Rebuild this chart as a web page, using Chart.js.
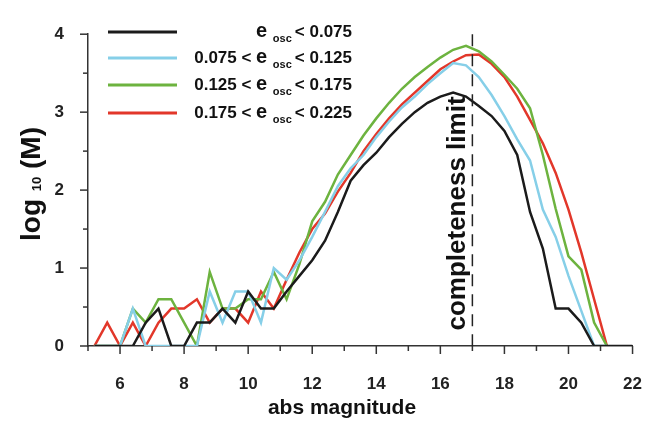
<!DOCTYPE html>
<html>
<head>
<meta charset="utf-8">
<script src="https://cdn.jsdelivr.net/npm/chart.js@4.4.0/dist/chart.umd.min.js"></script>
<style>
  html, body { margin: 0; padding: 0; background: #fff; }
  #wrap { width: 670px; height: 423px; }
</style>
</head>
<body>
<div id="wrap"><canvas id="chart"></canvas></div>
<script>
// abs magnitude bins
const magnitudes = [5.2, 5.6, 6.0, 6.4, 6.8, 7.2, 7.6, 8.0, 8.4, 8.8, 9.2, 9.6, 10.0, 10.4, 10.8,
  11.2, 11.6, 12.0, 12.4, 12.8, 13.2, 13.6, 14.0, 14.4, 14.8, 15.2, 15.6, 16.0, 16.4, 16.8,
  17.2, 17.6, 18.0, 18.4, 18.8, 19.2, 19.6, 20.0, 20.4, 20.8, 21.2, 21.6, 22.0];

// log10(M) per eccentricity range
const eLow = [0, 0, 0, 0, 0.3, 0.48, 0, 0, 0.3, 0.3, 0.48, 0.3, 0.7, 0.48, 0.48,
  0.7, 0.9, 1.1, 1.35, 1.72, 2.12, 2.32, 2.48, 2.68, 2.85, 3.0, 3.12, 3.2, 3.25, 3.2,
  3.08, 2.95, 2.76, 2.45, 1.72, 1.25, 0.48, 0.48, 0.3, 0, 0, 0, 0];
const eMid1 = [0, 0, 0, 0.48, 0, 0, 0, 0, 0, 0.7, 0.3, 0.7, 0.7, 0.3, 1.0,
  0.85, 1.1, 1.4, 1.72, 2.05, 2.28, 2.45, 2.68, 2.88, 3.06, 3.2, 3.36, 3.5, 3.63, 3.6,
  3.45, 3.22, 2.95, 2.65, 2.38, 1.75, 1.4, 0.9, 0.45, 0, 0, null, null];
const eMid2 = [0, 0, 0, 0.48, 0.3, 0.6, 0.6, 0.3, 0, 0.95, 0.48, 0.48, 0.6, 0.6, 0.95,
  0.6, 1.05, 1.6, 1.85, 2.2, 2.45, 2.7, 2.92, 3.12, 3.3, 3.45, 3.58, 3.7, 3.8, 3.85,
  3.78, 3.65, 3.48, 3.3, 3.05, 2.45, 1.76, 1.15, 0.98, 0.3, 0, null, null];
const eHigh = [0, 0.3, 0, 0.3, 0, 0.3, 0.48, 0.48, 0.6, 0.3, 0.48, 0.48, 0.3, 0.7, 0.48,
  0.85, 1.2, 1.5, 1.7, 1.98, 2.22, 2.5, 2.72, 2.92, 3.1, 3.25, 3.4, 3.55, 3.65, 3.73,
  3.74, 3.62, 3.45, 3.2, 2.9, 2.6, 2.22, 1.75, 1.2, 0.6, 0, null, null];

const rangeLow = ['', '0.075', '0.125', '0.175'];
const rangeHigh = ['0.075', '0.125', '0.175', '0.225'];
const xTickLabels = [6, 8, 10, 12, 14, 16, 18, 20, 22];
const yTickLabels = [0, 1, 2, 3, 4];
const completenessLimit = 17;

const colors = ['#1b1b1b', '#86cfe8', '#6db33f', '#e2372a'];
const FONT = '"Liberation Sans", Arial, sans-serif';

function series(vals) {
  return magnitudes.map((m, i) => ({ x: m, y: vals[i] }));
}

const decorations = {
  id: 'decorations',
  afterDraw(chart) {
    const ctx = chart.ctx;
    const xs = chart.scales.x, ys = chart.scales.y;
    const area = chart.chartArea;
    ctx.save();
    ctx.strokeStyle = '#333';
    ctx.lineWidth = 1.5;

    // tick marks
    xs.ticks.forEach(t => {
      const px = xs.getPixelForValue(t.value);
      const len = xTickLabels.includes(t.value) ? 8 : 5;
      ctx.beginPath();
      ctx.moveTo(px, area.bottom);
      ctx.lineTo(px, area.bottom + len);
      ctx.stroke();
    });
    for (let v = ys.min; v <= ys.max; v += 0.5) {
      const py = ys.getPixelForValue(v);
      const len = yTickLabels.includes(v) ? 8 : 5;
      ctx.beginPath();
      ctx.moveTo(area.left, py);
      ctx.lineTo(area.left - len, py);
      ctx.stroke();
    }

    // completeness limit
    const lx = xs.getPixelForValue(completenessLimit);
    ctx.strokeStyle = '#222';
    ctx.setLineDash([12, 8]);
    ctx.beginPath();
    ctx.moveTo(lx, ys.getPixelForValue(4));
    ctx.lineTo(lx, area.bottom + 8);
    ctx.stroke();
    ctx.setLineDash([]);

    ctx.fillStyle = '#111';
    ctx.save();
    ctx.translate(lx - 15, ys.getPixelForValue(1.7));
    ctx.rotate(-Math.PI / 2);
    ctx.font = 'bold 26px ' + FONT;
    ctx.textAlign = 'center';
    ctx.textBaseline = 'middle';
    ctx.fillText('completeness limit', 0, 0);
    ctx.restore();

    // axis titles
    ctx.font = 'bold 21px ' + FONT;
    ctx.textAlign = 'center';
    ctx.textBaseline = 'middle';
    ctx.fillText('abs magnitude', 342, 408);

    ctx.save();
    ctx.translate(32, 184);
    ctx.rotate(-Math.PI / 2);
    const parts = [['log ', 28, 0], ['10', 13, 5], [' (M)', 28, 0]];
    let total = 0;
    parts.forEach(p => { ctx.font = 'bold ' + p[1] + 'px ' + FONT; total += ctx.measureText(p[0]).width; });
    let cx = -total / 2;
    ctx.textAlign = 'left';
    parts.forEach(p => {
      ctx.font = 'bold ' + p[1] + 'px ' + FONT;
      ctx.fillText(p[0], cx, p[2]);
      cx += ctx.measureText(p[0]).width;
    });
    ctx.restore();

    // legend
    const rowsY = [32, 58, 85, 113];
    const textRight = 352;
    chart.data.datasets.forEach((ds, i) => {
      const y = rowsY[i];
      ctx.strokeStyle = ds.borderColor;
      ctx.lineWidth = 3;
      ctx.beginPath();
      ctx.moveTo(108, y);
      ctx.lineTo(177, y);
      ctx.stroke();

      const segs = [];
      if (rangeLow[i]) segs.push([rangeLow[i] + ' < ', 17, 0]);
      segs.push(['e ', 20, -1]);
      segs.push(['osc ', 11, 7]);
      segs.push(['< ' + rangeHigh[i], 17, 0]);
      let w = 0;
      segs.forEach(s => { ctx.font = 'bold ' + s[1] + 'px ' + FONT; w += ctx.measureText(s[0]).width; });
      let tx = textRight - w;
      ctx.textAlign = 'left';
      ctx.textBaseline = 'middle';
      ctx.fillStyle = '#111';
      segs.forEach(s => {
        ctx.font = 'bold ' + s[1] + 'px ' + FONT;
        ctx.fillText(s[0], tx, y + s[2]);
        tx += ctx.measureText(s[0]).width;
      });
    });
    ctx.restore();
  }
};

new Chart(document.getElementById('chart'), {
  type: 'line',
  data: {
    datasets: [eLow, eMid1, eMid2, eHigh].map((vals, i) => ({
      label: 'e' + i,
      data: series(vals),
      borderColor: colors[i],
      borderWidth: 2.5,
      pointRadius: 0,
      tension: 0,
      fill: false
    }))
  },
  options: {
    responsive: true,
    maintainAspectRatio: false,
    animation: false,
    layout: { padding: { top: 15, right: 29, left: 0, bottom: 0 } },
    plugins: { legend: { display: false }, tooltip: { enabled: false } },
    scales: {
      x: {
        type: 'linear',
        min: 5,
        max: 22,
        afterFit: s => { s.height = 77; },
        grid: { drawOnChartArea: false, drawTicks: false },
        border: { color: '#333', width: 1.5 },
        ticks: {
          stepSize: 1,
          autoSkip: false,
          maxRotation: 0,
          padding: 28,
          color: '#222',
          font: { family: FONT, size: 17, weight: 'bold' },
          callback: v => xTickLabels.includes(v) ? String(v) : ''
        }
      },
      y: {
        min: 0,
        max: 4,
        afterFit: s => { s.width = 88; },
        grid: { drawOnChartArea: false, drawTicks: false },
        border: { color: '#333', width: 1.5 },
        ticks: {
          stepSize: 1,
          padding: 24,
          color: '#222',
          font: { family: FONT, size: 17, weight: 'bold' },
          callback: v => yTickLabels.includes(v) ? String(v) : ''
        }
      }
    }
  },
  plugins: [decorations]
});
</script>
</body>
</html>
